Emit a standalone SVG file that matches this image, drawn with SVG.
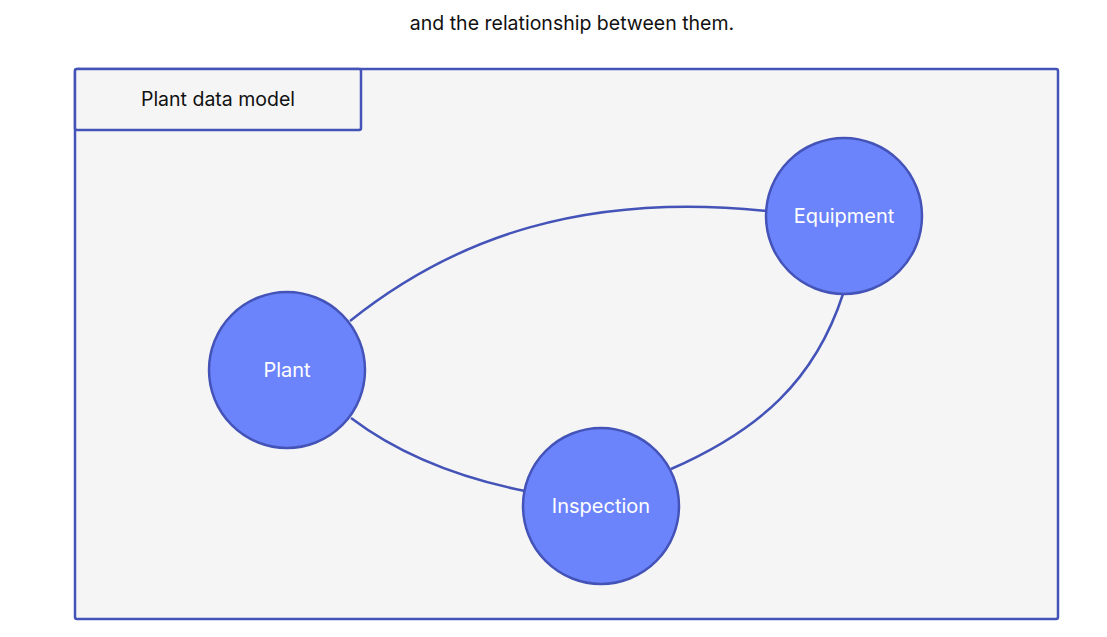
<svg xmlns="http://www.w3.org/2000/svg" width="1107" height="637" viewBox="0 0 1107 637">
<style>
text{font-family:Inter,"Noto Sans",sans-serif;}
.node circle{fill:#6c84fb;stroke:#4453b8;stroke-width:2.5;}
.node text{fill:#ffffff;font-size:20px;text-anchor:middle;dominant-baseline:central;}
.edge{fill:none;stroke:#4453b8;stroke-width:2.5;}
</style>
<rect width="1107" height="637" fill="#ffffff"/>
<text x="572" y="23" font-size="19.5" text-anchor="middle" dominant-baseline="central" fill="#111111">and the relationship between them.</text>
<g id="container">
<rect x="75" y="69" width="983" height="550" rx="2" fill="#f5f5f5" stroke="#4453b8" stroke-width="2.5"/>
<rect x="75" y="69" width="286" height="61" rx="2" fill="#f5f5f5" stroke="#4453b8" stroke-width="2.5"/>
<text x="218" y="99" font-size="19.5" text-anchor="middle" dominant-baseline="central" fill="#111111">Plant data model</text>
</g>
<g id="connectors">
<path class="edge" d="M350,321 C455,237 585,192 767,211"/>
<path class="edge" d="M351,418 C400,455 460,478 525,491"/>
<path class="edge" d="M843,294 C815,380 760,430 671,469"/>
</g>
<g id="plant" class="node"><circle cx="287" cy="370" r="78"/><text x="287" y="370">Plant</text></g>
<g id="equipment" class="node"><circle cx="844" cy="216" r="78"/><text x="844" y="216">Equipment</text></g>
<g id="inspection" class="node"><circle cx="601" cy="506" r="78"/><text x="601" y="506">Inspection</text></g>
</svg>
